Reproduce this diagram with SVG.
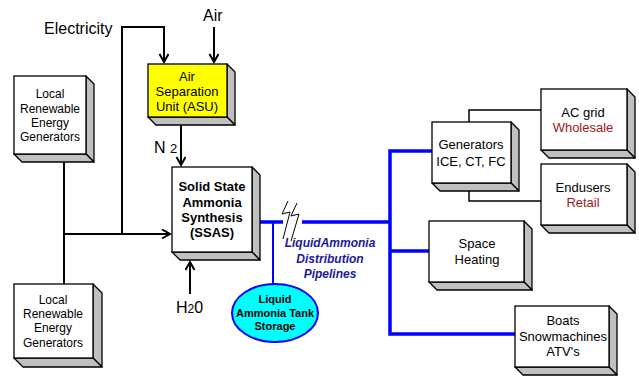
<svg xmlns="http://www.w3.org/2000/svg" width="639" height="379" viewBox="0 0 639 379">
<defs>
<style>
.front{fill:#fff;stroke:#000;stroke-width:1.3}
.side{fill:#c0c0c0;stroke:#000;stroke-width:1.3;stroke-linejoin:round}
.t{font-family:"Liberation Sans",Arial,sans-serif;fill:#000;text-anchor:middle}
.s12{font-size:12px}
.s13{font-size:13px}
.b{font-weight:bold}
.red{fill:#9c2020}
.blk{fill:none;stroke:#000;stroke-width:2}
.thin{fill:none;stroke:#000;stroke-width:1.5}
.blue{fill:none;stroke:#0000ff;stroke-width:3.5}
</style>
<marker id="arr" markerUnits="userSpaceOnUse" markerWidth="12" markerHeight="12" refX="9" refY="5" orient="auto">
<path d="M1,0.5 L9,5 L1,9.5" fill="none" stroke="#000" stroke-width="2"/>
</marker>
</defs>
<rect width="639" height="379" fill="#fff"/>

<g id="connectors">
<polyline class="blk" points="64,162 64,284"/>
<polyline class="blk" points="64,234 170,234" marker-end="url(#arr)"/>
<polyline class="blk" points="122,234 122,27 164,27 164,62" marker-end="url(#arr)"/>
<polyline class="blk" points="214,27 214,62" marker-end="url(#arr)"/>
<polyline class="blk" points="181,125 181,165" marker-end="url(#arr)"/>
<polyline class="blk" points="190,294 190,262" marker-end="url(#arr)"/>
<polyline class="thin" points="469,122 469,110 541,110"/>
<polyline class="thin" points="469,183 469,201 541,201"/>
<polyline class="blue" points="252,222 283,222"/>
<polyline class="blue" points="302,222 390,222"/>
<polyline class="blue" points="432,151 390,151 390,334 515,334"/>
<polyline class="blue" points="390,251 429,251"/>
<polyline fill="none" stroke="#0000ff" stroke-width="2" points="273,222 273,284"/>
<polyline fill="none" stroke="#000" stroke-width="1" points="288,201 282,214 290,212 283,239"/>
<polyline fill="none" stroke="#000" stroke-width="1" points="297,203 291,216 299,214 291,241"/>
</g>

<g id="local-top">
<polygon class="side" points="86,76 94,84 94,162 86,154"/>
<polygon class="side" points="14,154 86,154 94,162 22,162"/>
<rect class="front" x="14" y="76" width="72" height="78"/>
<text class="t s12" x="50" y="98">Local</text>
<text class="t s12" x="50" y="113">Renewable</text>
<text class="t s12" x="50" y="127">Energy</text>
<text class="t s12" x="50" y="141">Generators</text>
</g>

<g id="local-bottom">
<polygon class="side" points="93,284 102,293 102,367 93,358"/>
<polygon class="side" points="14,358 93,358 102,367 23,367"/>
<rect class="front" x="14" y="284" width="79" height="74"/>
<text class="t s12" x="53" y="304">Local</text>
<text class="t s12" x="53" y="318">Renewable</text>
<text class="t s12" x="53" y="332">Energy</text>
<text class="t s12" x="53" y="347">Generators</text>
</g>

<g id="asu">
<polygon class="side" points="227,64 235,72 235,125 227,117"/>
<polygon class="side" points="148,117 227,117 235,125 156,125"/>
<rect class="front" x="148" y="64" width="79" height="53" style="fill:#ffff00"/>
<text class="t s13" x="187" y="81">Air</text>
<text class="t s13" x="187" y="96">Separation</text>
<text class="t s13" x="187" y="111">Unit (ASU)</text>
</g>

<g id="ssas">
<polygon class="side" points="252,167 260,175 260,260 252,252"/>
<polygon class="side" points="172,252 252,252 260,260 180,260"/>
<rect class="front" x="172" y="167" width="80" height="85"/>
<text class="t s13 b" x="212" y="191">Solid State</text>
<text class="t s13 b" x="212" y="207">Ammonia</text>
<text class="t s13 b" x="212" y="222">Synthesis</text>
<text class="t s13 b" x="212" y="237">(SSAS)</text>
</g>

<g id="labels">
<text class="t" style="font-size:16px;text-anchor:start" x="44" y="34">Electricity</text>
<text class="t" style="font-size:16px;text-anchor:start" x="203" y="21">Air</text>
<text class="t" style="font-size:16px;text-anchor:start" x="154" y="153">N <tspan style="font-size:13px">2</tspan></text>
<text class="t" style="font-size:16px;text-anchor:start" x="176" y="313">H<tspan style="font-size:12px">2</tspan>0</text>
<text class="t s12 b" style="font-style:italic;fill:#1a1a99" x="330" y="247">LiquidAmmonia</text>
<text class="t s12 b" style="font-style:italic;fill:#1a1a99" x="330" y="263">Distribution</text>
<text class="t s12 b" style="font-style:italic;fill:#1a1a99" x="330" y="278">Pipelines</text>
</g>

<g id="tank">
<ellipse cx="275" cy="313" rx="43" ry="29" fill="#00ffff" stroke="#0000ff" stroke-width="2"/>
<text class="t b" style="font-size:11px" x="275" y="303">Liquid</text>
<text class="t b" style="font-size:11px" x="275" y="317">Ammonia Tank</text>
<text class="t b" style="font-size:11px" x="275" y="330">Storage</text>
</g>

<g id="generators">
<polygon class="side" points="511,122 519,130 519,191 511,183"/>
<polygon class="side" points="432,183 511,183 519,191 440,191"/>
<rect class="front" x="432" y="122" width="79" height="61"/>
<text class="t s13" x="471" y="149">Generators</text>
<text class="t s13" x="471" y="166">ICE, CT, FC</text>
</g>

<g id="acgrid">
<polygon class="side" points="627,89 635,97 635,158 627,150"/>
<polygon class="side" points="541,150 627,150 635,158 549,158"/>
<rect class="front" x="541" y="89" width="86" height="61"/>
<text class="t s13" x="583" y="117">AC grid</text>
<text class="t s13 red" x="583" y="132">Wholesale</text>
</g>

<g id="endusers">
<polygon class="side" points="627,164 635,172 635,233 627,225"/>
<polygon class="side" points="541,225 627,225 635,233 549,233"/>
<rect class="front" x="541" y="164" width="86" height="61"/>
<text class="t s13" x="583" y="192">Endusers</text>
<text class="t s13 red" x="583" y="207">Retail</text>
</g>

<g id="space-heating">
<polygon class="side" points="524,221 532,229 532,290 524,282"/>
<polygon class="side" points="429,282 524,282 532,290 437,290"/>
<rect class="front" x="429" y="221" width="95" height="61"/>
<text class="t s13" x="477" y="248">Space</text>
<text class="t s13" x="477" y="264">Heating</text>
</g>

<g id="boats">
<polygon class="side" points="609,306 617,314 617,375 609,367"/>
<polygon class="side" points="515,367 609,367 617,375 523,375"/>
<rect class="front" x="515" y="306" width="94" height="61"/>
<text class="t s13" x="563" y="325">Boats</text>
<text class="t s13" x="563" y="341">Snowmachines</text>
<text class="t s13" x="563" y="356">ATV's</text>
</g>
</svg>
